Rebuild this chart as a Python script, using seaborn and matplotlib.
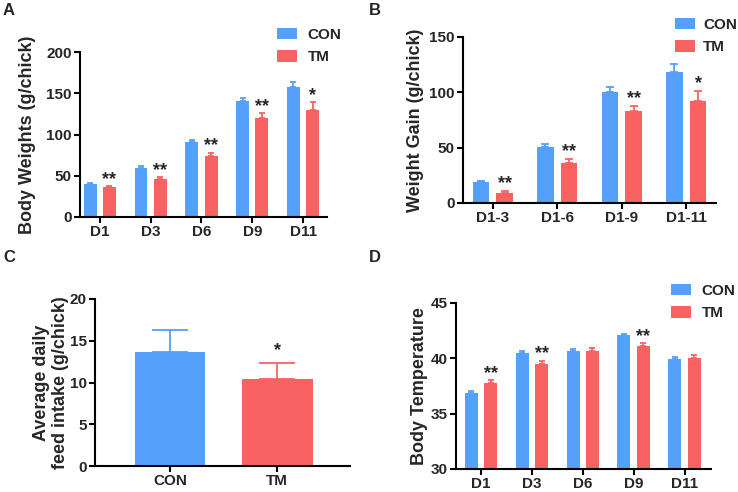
import numpy as np
import pandas as pd
import matplotlib
matplotlib.use("Agg")
import matplotlib.pyplot as plt
import seaborn as sns
from matplotlib.patches import Patch

# ---------------- data ----------------
days = ["D1", "D3", "D6", "D9", "D11"]
bw_con = [40, 59, 91, 140, 157]
bw_con_sd = [1.2, 2.3, 2.5, 4.5, 7.0]
bw_tm = [36, 46, 74, 120, 130]
bw_tm_sd = [1.3, 2.0, 4.0, 5.5, 9.0]
bw_sig = ["**", "**", "**", "**", "*"]

periods = ["D1-3", "D1-6", "D1-9", "D1-11"]
wg_con = [18.7, 50.6, 100.3, 118.0]
wg_con_sd = [1.5, 2.4, 4.2, 7.3]
wg_tm = [9.0, 35.8, 82.8, 92.5]
wg_tm_sd = [1.8, 4.2, 5.1, 9.0]
wg_sig = ["**", "**", "**", "*"]

groups = ["CON", "TM"]
fi_mean = [13.7, 10.4]
fi_sd = [2.6, 1.9]
fi_sig = ["", "*"]

bt_con = [36.9, 40.5, 40.7, 42.1, 39.9]
bt_con_sd = [0.15, 0.12, 0.12, 0.1, 0.2]
bt_tm = [37.8, 39.5, 40.7, 41.1, 40.0]
bt_tm_sd = [0.22, 0.25, 0.2, 0.25, 0.28]
bt_sig = ["**", "**", "", "**", ""]

BLUE = "#55A0FA"
RED = "#F96262"

sns.set_style("ticks")
plt.rcParams["font.family"] = ["Liberation Sans", "DejaVu Sans"]
plt.rcParams["font.weight"] = "bold"
plt.rcParams["axes.labelweight"] = "bold"

W, H = 738, 492
fig = plt.figure(figsize=(W / 100, H / 100), dpi=100)


def add_axes(l, r, t, b):
    return fig.add_axes([l / W, 1 - b / H, (r - l) / W, (b - t) / H])


def style(ax, ylim, yticks, xlim, ylabel, label_cx):
    ax.set_ylim(*ylim)
    ax.set_yticks(yticks)
    ax.set_xlim(*xlim)
    ax.set_xlabel("")
    for s in ["top", "right"]:
        ax.spines[s].set_visible(False)
    for s in ["left", "bottom"]:
        ax.spines[s].set_linewidth(1.5)
        ax.spines[s].set_color("black")
    ax.tick_params(axis="both", length=4, width=1.5, color="black",
                   labelsize=11, pad=2)
    for lab in ax.get_xticklabels() + ax.get_yticklabels():
        lab.set_fontweight("bold")
    ax.set_ylabel(ylabel, fontsize=13, fontweight="bold", va="center",
                  ha="center", multialignment="center")
    pos = ax.get_position()
    fx = label_cx / W
    ax.yaxis.set_label_coords((fx - pos.x0) / pos.width, 0.5)


def grouped(ax, cats, con, con_sd, tm, tm_sd, sig, width, gap, capsize, sig_off):
    df = pd.DataFrame({
        "cat": cats * 2,
        "group": ["CON"] * len(cats) + ["TM"] * len(cats),
        "value": list(con) + list(tm),
    })
    sns.barplot(data=df, x="cat", y="value", hue="group", order=cats,
                hue_order=["CON", "TM"], palette=[BLUE, RED], width=width,
                gap=gap, errorbar=None, saturation=1, legend=False, ax=ax,
                linewidth=0)
    for cont, sd, col in zip(ax.containers, [con_sd, tm_sd], [BLUE, RED]):
        xs = [b.get_x() + b.get_width() / 2 for b in cont]
        ys = [b.get_height() for b in cont]
        ax.errorbar(xs, ys, yerr=[np.zeros(len(sd)), sd], fmt="none",
                    ecolor=col, elinewidth=1.3, capsize=capsize, capthick=1.3,
                    zorder=1)
    tm_cont = ax.containers[1]
    for b, s, e in zip(tm_cont, sig, tm_sd):
        if s:
            ax.annotate(s, (b.get_x() + b.get_width() / 2, b.get_height() + e),
                        xytext=(0, sig_off), textcoords="offset points",
                        ha="center", va="bottom", fontsize=13,
                        fontweight="bold")


def legend(ax, x, y, pad=0.7):
    handles = [Patch(facecolor=BLUE, edgecolor="none", label="CON"),
               Patch(facecolor=RED, edgecolor="none", label="TM")]
    ax.legend(handles=handles, loc="upper left",
              bbox_to_anchor=(x / W, 1 - y / H), bbox_transform=fig.transFigure,
              frameon=False, handlelength=1.3, handleheight=0.75,
              handletextpad=pad, labelspacing=0.55, borderpad=0,
              borderaxespad=0, prop={"weight": "bold", "size": 11})


# ---------------- Panel A ----------------
axA = add_axes(80, 327, 52, 217)
grouped(axA, days, bw_con, bw_con_sd, bw_tm, bw_tm_sd, bw_sig,
        width=0.76, gap=0.33, capsize=2.5, sig_off=-1)
style(axA, (0, 200), [0, 50, 100, 150, 200], (-0.39, 4.47),
      "Body Weights (g/chick)", 28)
legend(axA, 277, 28)

# ---------------- Panel B ----------------
axB = add_axes(463, 716, 37, 203)
grouped(axB, periods, wg_con, wg_con_sd, wg_tm, wg_tm_sd, wg_sig,
        width=0.74, gap=0.31, capsize=3, sig_off=-1)
style(axB, (0, 150), [0, 50, 100, 150], (-0.46, 3.46),
      "Weight Gain (g/chick)", 416)
legend(axB, 675, 18, pad=0.55)

# ---------------- Panel C ----------------
axC = add_axes(95, 350, 299, 466)
sns.barplot(x=groups, y=fi_mean, hue=groups, palette=[BLUE, RED],
            width=0.66, errorbar=None, saturation=1, legend=False, ax=axC,
            linewidth=0)
for cont, sd, col, s in zip(axC.containers, fi_sd, [BLUE, RED], fi_sig):
    for b in cont:
        if b.get_height() == 0 or np.isnan(b.get_height()):
            continue
        xc = b.get_x() + b.get_width() / 2
        axC.errorbar([xc], [b.get_height()], yerr=[[0], [sd]], fmt="none",
                     ecolor=col, elinewidth=1.3, capsize=13, capthick=1.3,
                     zorder=1)
        if s:
            axC.annotate(s, (xc, b.get_height() + sd), xytext=(0, 3),
                         textcoords="offset points", ha="center", va="bottom",
                         fontsize=13, fontweight="bold")
style(axC, (0, 20), [0, 5, 10, 15, 20], (-0.70, 1.68),
      "Average daily\nfeed intake (g/chick)", 51)

# ---------------- Panel D ----------------
axD = add_axes(456, 711, 303, 469)
grouped(axD, days, bt_con, bt_con_sd, bt_tm, bt_tm_sd, bt_sig,
        width=0.76, gap=0.33, capsize=2.5, sig_off=-1)
style(axD, (30, 45), [30, 35, 40, 45], (-0.49, 4.52),
      "Body Temperature", 419)
legend(axD, 671, 284)

# panel letters
for t, x, y in [("A", 3, 3), ("B", 369, 3), ("C", 3, 250), ("D", 369, 250)]:
    fig.text(x / W, 1 - y / H, t, fontsize=12, fontweight="bold",
             ha="left", va="top")

fig.savefig("out.png", dpi=100)
